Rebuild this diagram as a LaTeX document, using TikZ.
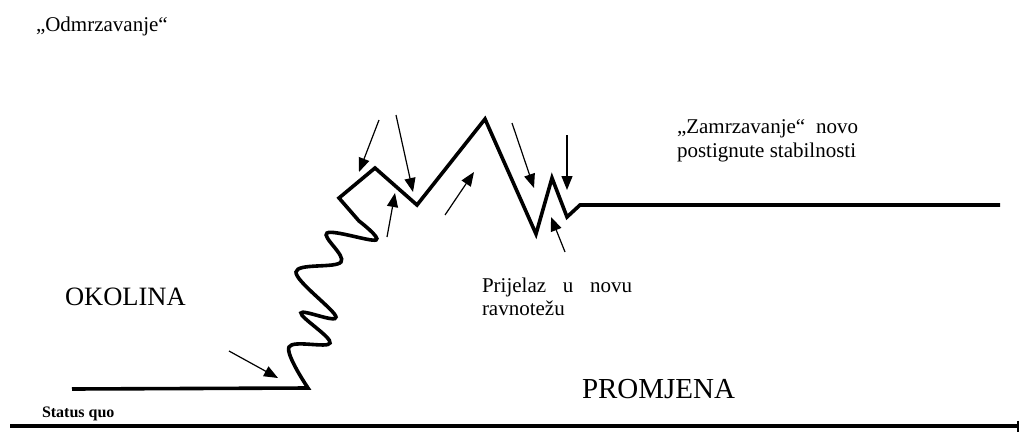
\documentclass[tikz,border=0pt]{standalone}
\usepackage{fontspec}
\setmainfont{Liberation Serif}
\usetikzlibrary{arrows.meta}
\begin{document}
\begin{tikzpicture}[x=1pt,y=-1pt,
  thickline/.style={line width=3.6pt,line join=miter},
  force/.style={line width=1.2pt,-{Triangle[length=14pt,width=11pt]}},
  lbl/.style={anchor=base west,inner sep=0pt,outer sep=0pt},
  txt/.style={font=\fontsize{21pt}{24pt}\selectfont},
]
\useasboundingbox (0,0) rectangle (1022,434);

% axis
\coordinate (ax0) at (10,426);
\coordinate (ax1) at (1019,426);
\draw[line width=3.6pt,-{Bar[width=11pt,line width=2.4pt]}] (ax0) -- (ax1);

% main curve
\coordinate (sq) at (72,389);
\coordinate (p0) at (308,388);
\coordinate (l1) at (289,347);
\coordinate (r1) at (330,343);
\coordinate (l2) at (301,313);
\coordinate (r2) at (336,317);
\coordinate (l3) at (296,272);
\coordinate (r3) at (341,262);
\coordinate (l4) at (327,233);
\coordinate (r4) at (376,240);
\coordinate (m4) at (359,221);
\coordinate (z1) at (339,198);
\coordinate (z2) at (375,168);
\coordinate (z3) at (417,205);
\coordinate (z4) at (485,119);
\coordinate (z5) at (536,234);
\coordinate (z6) at (552,178);
\coordinate (z7) at (567,217);
\coordinate (z8) at (580,205);
\coordinate (z9) at (1000,205);

\draw[thickline] (sq) -- plot[smooth,tension=0.6] coordinates {(p0) (l1) (r1) (l2) (r2) (l3) (r3) (l4) (r4) (m4)}
  -- (z1) -- (z2) -- (z3) -- (z4) -- (z5) -- (z6) -- (z7) -- (z8) -- (z9);

% forces
\coordinate (a1s) at (379,120); \coordinate (a1e) at (359,172);
\coordinate (a2s) at (396,115); \coordinate (a2e) at (413,192);
\coordinate (a3s) at (387,237); \coordinate (a3e) at (395,193);
\coordinate (a4s) at (445,215); \coordinate (a4e) at (474,172);
\coordinate (a5s) at (512,123); \coordinate (a5e) at (534,188);
\coordinate (a6s) at (567,135); \coordinate (a6e) at (567,190);
\coordinate (a7s) at (565,252); \coordinate (a7e) at (551,217);
\coordinate (a8s) at (229,351); \coordinate (a8e) at (278,378);
\foreach \i in {1,...,8} \draw[force] (a\i s) -- (a\i e);

% labels
\node[lbl,txt] (odm) at (36,31) {„Odmrzavanje“};
\node[lbl,font=\fontsize{26.5pt}{30pt}\selectfont] (oko) at (65,305) {OKOLINA};
\node[lbl,font=\fontsize{29pt}{32pt}\selectfont] (pro) at (582,398) {PROMJENA};
\node[lbl,font=\bfseries\fontsize{16pt}{18pt}\selectfont] (sqt) at (42,417) {Status quo};
\node[lbl,txt] (zam1) at (677,133) {\makebox[181pt][s]{„Zamrzavanje“ novo}};
\node[lbl,txt] (zam2) at (677,157) {postignute stabilnosti};
\node[lbl,txt] (pri1) at (482,292) {\makebox[150pt][s]{Prijelaz u novu}};
\node[lbl,txt] (pri2) at (482,315) {ravnotežu};
\end{tikzpicture}
\end{document}
